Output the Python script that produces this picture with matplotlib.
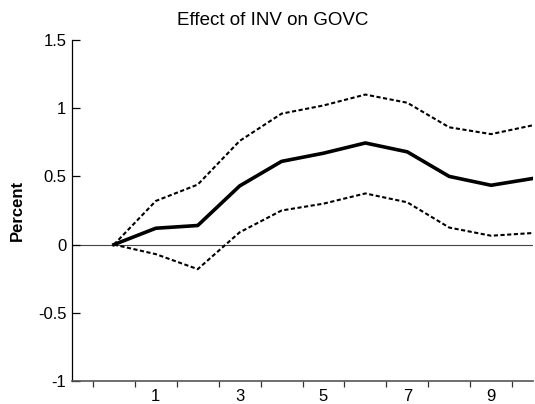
import matplotlib
matplotlib.use("Agg")
from matplotlib import pyplot as plt

plt.rcParams['font.family'] = ['Liberation Sans', 'DejaVu Sans']

# impulse response of GOVC to INV, periods 0..10
periods = [0, 1, 2, 3, 4, 5, 6, 7, 8, 9, 10]
response = [0.0, 0.12, 0.14, 0.43, 0.61, 0.67, 0.745, 0.68, 0.50, 0.435, 0.485]
upper = [0.0, 0.32, 0.44, 0.76, 0.96, 1.02, 1.10, 1.04, 0.86, 0.81, 0.875]
lower = [0.0, -0.07, -0.18, 0.09, 0.25, 0.30, 0.375, 0.31, 0.125, 0.065, 0.085]

xtick_pos = [1, 3, 5, 7, 9]
xtick_lab = ['1', '3', '5', '7', '9']
ytick_pos = [-1, -0.5, 0, 0.5, 1, 1.5]
ytick_lab = ['-1', '-0.5', '0', '0.5', '1', '1.5']

fig = plt.figure(figsize=(5.35, 4.04), dpi=100)
ax = fig.add_axes([72/535, 23/404, 461/535, 341/404])

ax.axhline(0, color='#444444', lw=0.8, zorder=1)
ax.plot(periods, upper, color='black', lw=1.5, dashes=(2, 1.2))
ax.plot(periods, lower, color='black', lw=1.5, dashes=(2, 1.2))
ax.plot(periods, response, color='black', lw=2.6)

ax.set_xlim(-1, 10)
ax.set_ylim(-1, 1.5)

ax.spines['top'].set_visible(False)
ax.spines['right'].set_visible(False)
ax.spines['left'].set_color('black')
ax.spines['left'].set_linewidth(0.9)
ax.spines['bottom'].set_color('#555555')
ax.spines['bottom'].set_linewidth(1.2)

# major x ticks sit at period boundaries, labels in the middle
ax.set_xticks([k - 0.5 for k in range(0, 11)])
ax.set_xticklabels([])
ax.set_xticks(xtick_pos, minor=True)
ax.set_xticklabels(xtick_lab, minor=True)
ax.tick_params(axis='x', which='major', direction='out', length=4, width=0.9, color='#333333')
ax.tick_params(axis='x', which='minor', length=0, pad=6, labelsize=12)

ax.set_yticks(ytick_pos)
ax.set_yticklabels(ytick_lab)
ax.tick_params(axis='y', direction='in', length=6, width=0.9, pad=4, labelsize=12)

ax.set_ylabel('Percent', fontsize=12, fontweight='bold')
ax.yaxis.set_label_coords(-0.102, 0.5)
ax.set_title('Effect of INV on GOVC', fontsize=13.5, pad=11, x=0.435)

fig.savefig('out.png', dpi=100)
